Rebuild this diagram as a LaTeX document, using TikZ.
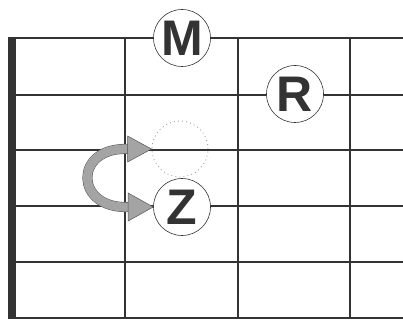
\documentclass[tikz,border=0pt]{standalone}
\usepackage{fontspec}
\setmainfont{Liberation Sans}
\usetikzlibrary{calc}
\definecolor{ink}{HTML}{333333}
\definecolor{arrowfill}{HTML}{A4A4A4}
\definecolor{arrowline}{HTML}{555555}
\tikzset{
  grid line/.style={draw=ink, line width=1.2pt},
  finger/.style={circle, draw=ink, line width=0.6pt, fill=white, minimum size=57pt, inner sep=0pt,
    font=\fontsize{50}{50}\selectfont\bfseries, text=ink},
  ghost/.style={circle, draw=gray!75, line width=0.9pt, dash pattern=on 0.9pt off 3.2pt, minimum size=56pt, inner sep=0pt},
  band/.style={draw=arrowline, line width=0.5pt, double=arrowfill, double distance=9pt},
  head/.style={fill=arrowfill, draw=arrowline, line width=0.5pt, line join=miter}
}
\begin{document}
\begin{tikzpicture}[x=1pt, y=-1pt]
\useasboundingbox (0,0) rectangle (403,320);
% grid
\foreach \y in {38,95,150,206,262,318} \draw[grid line] (12,\y) -- (403,\y);
\foreach \x in {125,238,350} \draw[grid line] (\x,38) -- (\x,318);
\fill[ink] (8,37) rectangle (16,319);
% nodes
\node[ghost] (G) at (180,149) {};
\node[finger] (M) at (182,38) {M};
\node[finger] (R) at (295,94) {R};
\node[finger] (Z) at (182,207) {Z};
% curved arrow
\coordinate (A1) at ([xshift=-24pt]G.west);
\coordinate (A2) at ([xshift=-25pt]Z.west);
\draw[band] (A1) .. controls +(-54,-2) and +(-54,2) .. (A2);
\filldraw[head] ($(A1)+(0,-13)$) -- (G.west) -- ($(A1)+(0,13)$) -- cycle;
\filldraw[head] ($(A2)+(0,-14)$) -- (Z.west) -- ($(A2)+(0,14)$) -- cycle;
\end{tikzpicture}
\end{document}
